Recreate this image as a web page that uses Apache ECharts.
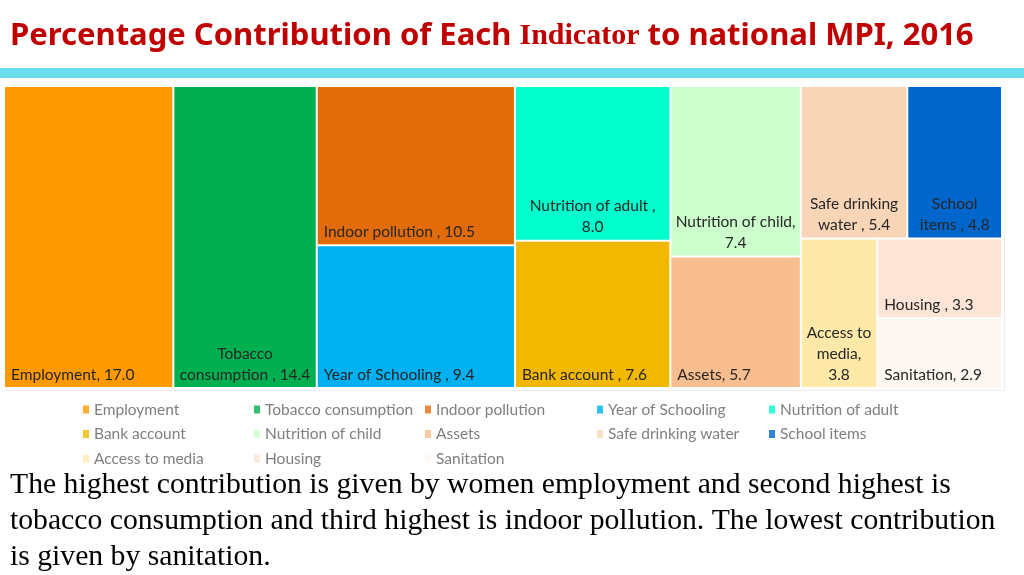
<!DOCTYPE html>
<html lang="en">
<head>
    <meta charset="UTF-8">
    <title>Percentage Contribution of Each Indicator to national MPI, 2016</title>
    <script src="https://cdn.jsdelivr.net/npm/echarts@6.0.0/dist/echarts.min.js"></script>
    <style>
        html, body { margin: 0; padding: 0; background: #fff; }
    </style>
</head>
<body>
    <div id="myChart" style="width: 1024px; height: 575px;"></div>
    <script>
        // indicators, already sorted high to low
        const names = [
            'Employment', 'Tobacco consumption', 'Indoor pollution', 'Year of Schooling', 'Nutrition of adult',
            'Bank account', 'Nutrition of child', 'Assets', 'Safe drinking water', 'School items',
            'Access to media', 'Housing', 'Sanitation'
        ];
        const values = [17.0, 14.4, 10.5, 9.4, 8.0, 7.6, 7.4, 5.7, 5.4, 4.8, 3.8, 3.3, 2.9];
        // label text as written on the tiles
        const labels = [
            'Employment, 17.0', 'Tobacco\nconsumption , 14.4', 'Indoor pollution , 10.5',
            'Year of Schooling , 9.4', 'Nutrition of adult ,\n8.0', 'Bank account , 7.6',
            'Nutrition of child,\n7.4', 'Assets, 5.7', 'Safe drinking\nwater , 5.4',
            'School\nitems , 4.8', 'Access to\nmedia,\n3.8', 'Housing , 3.3', 'Sanitation, 2.9'
        ];
        const colors = [
            '#FF9900', '#00B050', '#E36C0A', '#00B0F0', '#00FFCC',
            '#F2B800', '#CCFFCC', '#F9BE8F', '#F9D5B7', '#0066CC',
            '#FFE9A9', '#FCE4D6', '#FDF7F2'
        ];

        const paragraph = 'The highest contribution is given by women employment and second highest is\n' +
            'tobacco consumption and third highest is indoor pollution. The lowest contribution\n' +
            'is given by sanitation.';

        var myChart = echarts.init(document.getElementById('myChart'));

        // tile data
        const treeData = names.map(function (n, i) {
            const wrapped = labels[i].indexOf('\n') >= 0;
            return {
                name: n,
                value: values[i],
                itemStyle: { color: colors[i] },
                label: {
                    formatter: labels[i],
                    position: wrapped ? 'insideBottom' : 'insideBottomLeft',
                    align: wrapped ? 'center' : 'left'
                }
            };
        });

        // legend: 5 columns, read row by row
        const legendLeft = [83, 254, 425, 597, 769];
        const legends = legendLeft.map(function (x, c) {
            return {
                orient: 'vertical',
                left: x,
                top: 401.5,
                padding: 0,
                itemWidth: 6,
                itemHeight: 8,
                itemGap: 8.5,
                icon: 'rect',
                selectedMode: false,
                data: names.filter(function (n, i) { return i % 5 === c; }),
                textStyle: { color: '#7f7f7f', fontSize: 15.5, fontFamily: 'Lato' }
            };
        });

        // empty series so the legend has entries with the tile colours
        const legendSeries = names.map(function (n, i) {
            return { type: 'scatter', name: n, data: [], itemStyle: { color: colors[i] } };
        });

        option = {
            animation: false,
            title: [
                {
                    text: '{s|Percentage Contribution of Each }{r|Indicator}{s| to national MPI, 2016}',
                    left: 10,
                    top: 21,
                    padding: 0,
                    textStyle: {
                        rich: {
                            s: { fontFamily: 'Noto Sans', fontWeight: 'bold', fontSize: 31, color: '#C00000' },
                            r: { fontFamily: 'Liberation Serif', fontWeight: 'bold', fontSize: 30, color: '#C00000' }
                        }
                    }
                },
                {
                    text: paragraph,
                    left: 10,
                    top: 467,
                    padding: 0,
                    textStyle: {
                        fontFamily: 'Liberation Serif',
                        fontWeight: 'normal',
                        fontSize: 29.7,
                        lineHeight: 36,
                        color: '#000'
                    }
                }
            ],
            graphic: [
                // cyan rule under the title
                { type: 'rect', left: 0, top: 68, shape: { width: 1024, height: 10 }, style: { fill: '#6ADDEC' }, silent: true },
                // faint frame round the chart area
                { type: 'rect', left: 4, top: 86, shape: { width: 998, height: 302 }, style: { fill: 'none', stroke: '#ececec', lineWidth: 1 }, silent: true }
            ],
            legend: legends,
            grid: { left: 0, top: 0, width: 1, height: 1, show: false },
            xAxis: { show: false },
            yAxis: { show: false },
            series: [
                {
                    type: 'treemap',
                    left: 4,
                    top: 86,
                    width: 998,
                    height: 302,
                    roam: false,
                    nodeClick: false,
                    squareRatio: 0.9,
                    breadcrumb: { show: false },
                    label: {
                        show: true,
                        color: '#262626',
                        fontFamily: 'Lato',
                        fontSize: 15.5,
                        lineHeight: 21,
                        distance: 2,
                        padding: [0, 4, 0, 4],
                        overflow: 'none'
                    },
                    levels: [
                        { itemStyle: { borderWidth: 1, borderColor: '#fff', gapWidth: 2 } },
                        { itemStyle: { borderWidth: 0, gapWidth: 0 } }
                    ],
                    data: treeData
                }
            ].concat(legendSeries)
        };
        myChart.setOption(option);
    </script>
</body>
</html>
